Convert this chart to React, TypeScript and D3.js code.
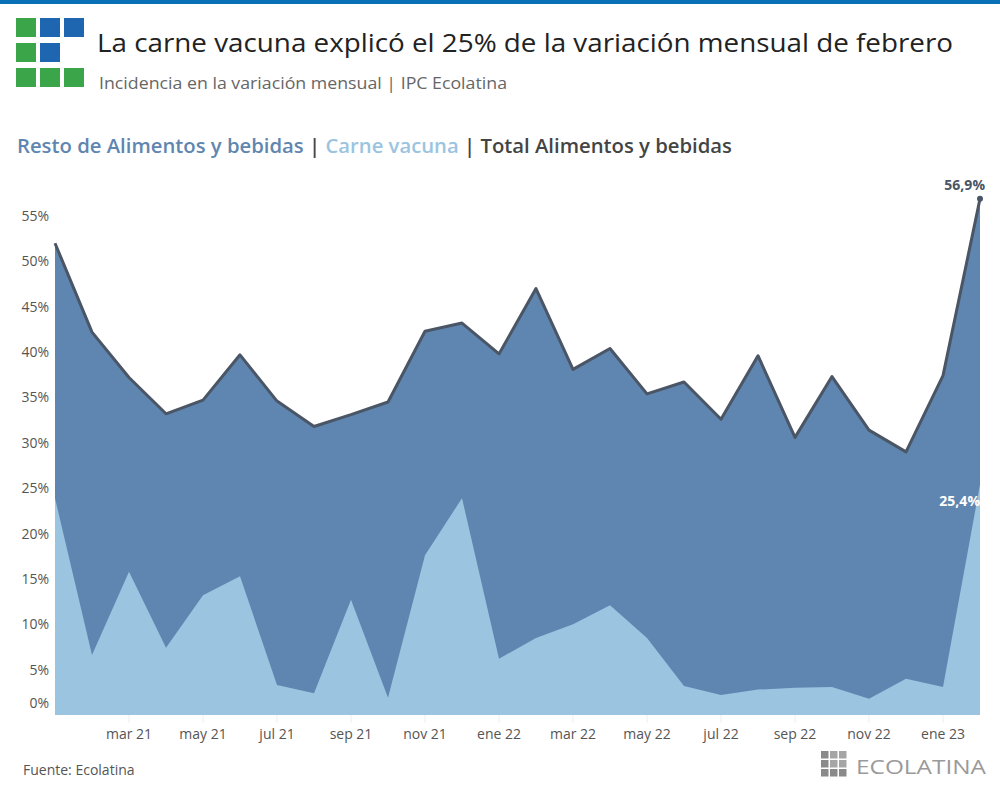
import React from "react";
import * as d3 from "d3";

const months = [
  "ene 21","feb 21","mar 21","abr 21","may 21","jun 21","jul 21","ago 21","sep 21","oct 21","nov 21","dic 21",
  "ene 22","feb 22","mar 22","abr 22","may 22","jun 22","jul 22","ago 22","sep 22","oct 22","nov 22","dic 22",
  "ene 23","feb 23",
];
const totalAlimentos = [
  52.0, 42.2, 37.2, 33.2, 34.7, 39.7, 34.6, 31.8, 33.1, 34.5, 42.3, 43.2,
  39.8, 47.0, 38.1, 40.4, 35.4, 36.7, 32.6, 39.6, 30.6, 37.3, 31.4, 29.0,
  37.4, 56.9,
];
const carneVacuna = [
  23.9, 6.6, 15.8, 7.4, 13.2, 15.3, 3.3, 2.4, 12.7, 1.9, 17.6, 23.9,
  6.2, 8.5, 10.0, 12.1, 8.5, 3.2, 2.2, 2.8, 3.0, 3.1, 1.8, 4.0,
  3.1, 25.4,
];
const yTicks = [0, 5, 10, 15, 20, 25, 30, 35, 40, 45, 50, 55];
const xTickLabels = ["mar 21","may 21","jul 21","sep 21","nov 21","ene 22","mar 22","may 22","jul 22","sep 22","nov 22","ene 23"];

const C_DARK = "#5f86b0";
const C_LIGHT = "#9bc4e1";
const C_LINE = "#4a5565";
const FONT = "'Open Sans', 'DejaVu Sans', sans-serif";

export default function App() {
  const W = 1000, H = 800;
  const x = d3.scaleLinear().domain([0, months.length - 1]).range([55, 980]);
  const y = d3.scaleLinear().domain([0, 55]).range([715, 216]);

  const idx = months.map((_, i) => i);
  const totalArea = d3.area<number>().x(i => x(i)).y0(y(0)).y1(i => y(totalAlimentos[i]))(idx) || "";
  const carneArea = d3.area<number>().x(i => x(i)).y0(y(0)).y1(i => y(carneVacuna[i]))(idx) || "";
  const totalLine = d3.line<number>().x(i => x(i)).y(i => y(totalAlimentos[i]))(idx) || "";

  const last = months.length - 1;
  const green = "#3ba549", blue = "#1f66b1";
  const logo = [
    [green, blue, blue],
    [green, blue, null],
    [green, green, green],
  ];

  return (
    <svg width={W} height={H} style={{ position: "absolute", left: 0, top: 0, background: "#fff" }}>
      <rect x={0} y={0} width={W} height={4} fill="#0a70b5" />
      {logo.map((row, r) =>
        row.map((c, k) =>
          c ? <rect key={`${r}-${k}`} x={16 + k * 24} y={18 + r * 25} width={20} height={19} fill={c} /> : null
        )
      )}
      <text x={97} y={52} fontFamily={FONT} fontSize={26} fill="#222" textLength={856} lengthAdjust="spacingAndGlyphs">
        La carne vacuna explicó el 25% de la variación mensual de febrero
      </text>
      <text x={99} y={89} fontFamily={FONT} fontSize={16.5} fill="#666" textLength={408} lengthAdjust="spacingAndGlyphs">
        Incidencia en la variación mensual | IPC Ecolatina
      </text>

      <text x={17} y={153} fontFamily={FONT} fontSize={20} fontWeight={600} textLength={715} lengthAdjust="spacingAndGlyphs">
        <tspan fill={C_DARK}>Resto de Alimentos y bebidas</tspan>
        <tspan fill="#444"> | </tspan>
        <tspan fill={C_LIGHT}>Carne vacuna</tspan>
        <tspan fill="#444"> | </tspan>
        <tspan fill="#444">Total Alimentos y bebidas</tspan>
      </text>

      {xTickLabels.map((lab) => {
        const i = months.indexOf(lab);
        return <line key={"g" + lab} x1={x(i)} x2={x(i)} y1={y(0)} y2={y(0) + 8} stroke="#eee" />;
      })}
      <path d={totalArea} fill={C_DARK} />
      <path d={carneArea} fill={C_LIGHT} />
      <path d={totalLine} fill="none" stroke={C_LINE} strokeWidth={3} strokeLinejoin="round" />
      <circle cx={x(last)} cy={y(totalAlimentos[last])} r={3} fill={C_LINE} />

      {yTicks.map(t => (
        <text key={t} x={49} y={(t === 0 ? y(t) - 12 : y(t)) + 5} textAnchor="end" fontFamily={FONT} fontSize={14} fill="#555">
          {t}%
        </text>
      ))}
      {xTickLabels.map(lab => {
        const i = months.indexOf(lab);
        return (
          <text key={lab} x={x(i)} y={739} textAnchor="middle" fontFamily={FONT} fontSize={14} fill="#555">
            {lab}
          </text>
        );
      })}

      <text x={x(last) + 5} y={y(totalAlimentos[last]) - 9} textAnchor="end" fontFamily={FONT} fontSize={14} fontWeight={700} fill="#4a5565">
        {String(totalAlimentos[last]).replace(".", ",")}%
      </text>
      <text x={x(last)} y={y(carneVacuna[last]) + 21} textAnchor="end" fontFamily={FONT} fontSize={14} fontWeight={700} fill="#fff">
        {String(carneVacuna[last]).replace(".", ",")}%
      </text>

      <text x={23} y={775} fontFamily={FONT} fontSize={14} fill="#555">Fuente: Ecolatina</text>

      {[0, 1, 2].map(r => [0, 1, 2].map(k => (
        <rect key={`e${r}${k}`} x={821 + k * 9} y={751 + r * 9} width={7.5} height={7.5} fill={r === 2 || k === 0 ? "#8a8a8a" : "#a5a5a5"} />
      )))}
      <text x={856} y={774} fontFamily={FONT} fontSize={20} fill="#9a9a9a" textLength={130} lengthAdjust="spacingAndGlyphs">
        ECOLATINA
      </text>
    </svg>
  );
}
